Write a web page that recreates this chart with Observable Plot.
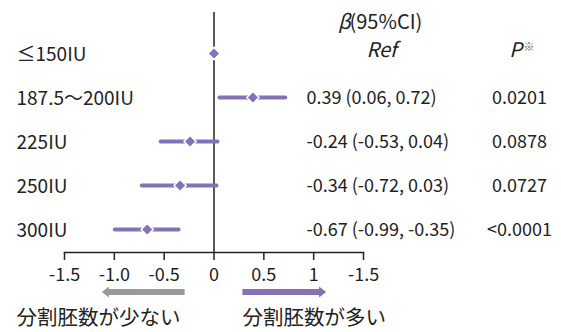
<!DOCTYPE html>
<html>
<head>
<meta charset="utf-8">
<script src="https://cdn.jsdelivr.net/npm/d3@7"></script>
<script src="https://cdn.jsdelivr.net/npm/@observablehq/plot@0.6"></script>
<style>
  html, body { margin: 0; padding: 0; background: #fff; }
  #chart svg { display: block; }
</style>
</head>
<body>
<div id="chart"></div>
<script>
// ---- data ----
const categories = ["≤150IU", "187.5～200IU", "225IU", "250IU", "300IU"];
const beta   = [0, 0.39, -0.24, -0.34, -0.67];
const ciLow  = [null, 0.06, -0.53, -0.72, -0.99];
const ciHigh = [null, 0.72, 0.04, 0.03, -0.35];
const ciText = ["", "0.39 (0.06, 0.72)", "-0.24 (-0.53, 0.04)", "-0.34 (-0.72, 0.03)", "-0.67 (-0.99, -0.35)"];
const pText  = ["", "0.0201", "0.0878", "0.0727", "<0.0001"];
const tickValues = [-1.5, -1, -0.5, 0, 0.5, 1, 1.5];
const tickLabels = ["-1.5", "-1.0", "-0.5", "0", "0.5", "1", "-1.5"];
const headerBeta = "β";
const headerCI = "(95%CI)";
const headerRef = "Ref";
const headerP = "P";
const headerMark = "※";
const arrowLess = [-0.29, -1.12];   // tail, tip (x units)
const arrowMore = [0.29, 1.13];
const labelLess = "分割胚数が少ない";
const labelMore = "分割胚数が多い";

const rows = categories.map((c, i) => ({
  cat: c, beta: beta[i], lo: ciLow[i], hi: ciHigh[i], ci: ciText[i], p: pText[i]
}));
const ciRows = rows.filter(d => d.lo != null);

const purple = "#8572b6";
const gray = "#9a9a9a";
const ink = "#222";
const font = "'Noto Sans CJK JP', 'Noto Sans', sans-serif";

function arrowsMark(index, scales, values, dimensions) {
  const g = d3.create("svg:g");
  const yc = dimensions.height - dimensions.marginBottom + 40;
  const draw = (arr, color) => {
    const xt = scales.x(arr[0]), xh = scales.x(arr[1]);
    const dir = Math.sign(xh - xt);
    const headLen = 7, headHalf = 5.5, barHalf = 3;
    const xb = xh - dir * headLen;
    g.append("path")
      .attr("fill", color)
      .attr("d", `M${xt},${yc - barHalf}L${xb},${yc - barHalf}L${xb},${yc - headHalf}L${xh},${yc}L${xb},${yc + headHalf}L${xb},${yc + barHalf}L${xt},${yc + barHalf}Z`);
  };
  draw(arrowLess, gray);
  draw(arrowMore, purple);
  return g.node();
}

const plot = Plot.plot({
  width: 561,
  height: 332,
  marginLeft: 64,
  marginRight: 198,
  marginTop: 12,
  marginBottom: 80,
  style: { fontFamily: font, fontSize: "18px", color: ink, background: "#fff" },
  x: { domain: [-1.5, 1.5], axis: null },
  y: { type: "point", domain: categories, range: [53, 229], padding: 0, axis: null },
  marks: [
    Plot.ruleX([0], { stroke: ink, strokeWidth: 1.5 }),
    Plot.frame({ anchor: "bottom", stroke: ink, strokeWidth: 1.5 }),
    Plot.axisX({
      ticks: tickValues,
      tickFormat: d => tickLabels[tickValues.indexOf(d)],
      tickSize: 8,
      tickPadding: 8,
      fontSize: 18,
      stroke: ink,
      strokeWidth: 1.5,
      fill: ink,
      label: null
    }),
    Plot.ruleY(ciRows, { y: "cat", x1: "lo", x2: "hi", stroke: purple, strokeWidth: 4, strokeLinecap: "round" }),
    Plot.dot(rows, { x: "beta", y: "cat", symbol: "diamond2", r: 5.5, fill: purple, stroke: "#fff", strokeWidth: 1.5 }),
    Plot.text(rows, { y: "cat", text: "cat", frameAnchor: "left", dx: -48, dy: 1, textAnchor: "start", lineAnchor: "middle", fill: ink, fontSize: 19 }),
    Plot.text(ciRows, { y: "cat", text: "ci", frameAnchor: "right", dx: -57, dy: 1, textAnchor: "start", lineAnchor: "middle", fill: ink, fontSize: 18 }),
    Plot.text(ciRows, { y: "cat", text: "p", frameAnchor: "right", dx: 156, dy: 1, textAnchor: "middle", lineAnchor: "middle", fill: ink, fontSize: 18 }),
    Plot.text([headerBeta], { frameAnchor: "top-right", dx: -13, dy: 10, textAnchor: "end", lineAnchor: "middle", fontStyle: "italic", fill: ink, fontSize: 20 }),
    Plot.text([headerCI], { frameAnchor: "top-right", dx: -14, dy: 10, textAnchor: "start", lineAnchor: "middle", fill: ink, fontSize: 20 }),
    Plot.text([headerRef], { frameAnchor: "top-right", dx: 18, dy: 38, textAnchor: "middle", lineAnchor: "middle", fontStyle: "italic", fill: ink, fontSize: 20 }),
    Plot.text([headerP], { frameAnchor: "top-right", dx: 152, dy: 38, textAnchor: "middle", lineAnchor: "middle", fontStyle: "italic", fill: ink, fontSize: 20 }),
    Plot.text([headerMark], { frameAnchor: "top-right", dx: 160, dy: 35, textAnchor: "start", lineAnchor: "middle", fill: "#666", fontSize: 11 }),
    arrowsMark,
    Plot.text([labelLess], { frameAnchor: "bottom-left", dx: -48, dy: 66, textAnchor: "start", lineAnchor: "middle", fill: ink, fontSize: 20.5 }),
    Plot.text([labelMore], { frameAnchor: "bottom-left", dx: 178, dy: 66, textAnchor: "start", lineAnchor: "middle", fill: ink, fontSize: 20.5 })
  ]
});
document.getElementById("chart").appendChild(plot);
</script>
</body>
</html>
